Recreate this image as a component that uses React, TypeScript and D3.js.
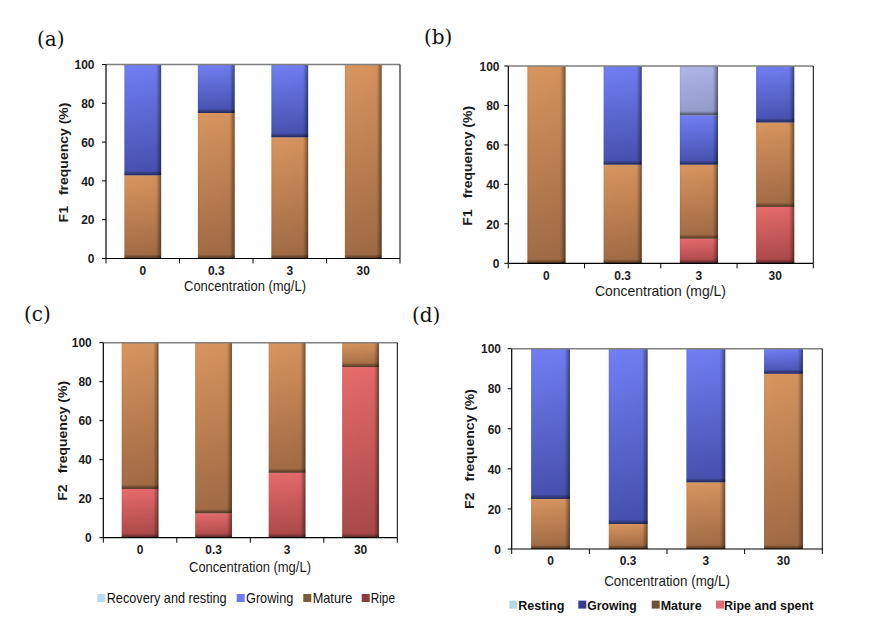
import React from "react";
import * as d3 from "d3";

// ---------- data ----------
const categories = ["0", "0.3", "3", "30"];
const yTickValues = [0, 20, 40, 60, 80, 100];
const stackKeys = ["ripe", "mature", "growing", "resting"]; // bottom -> top

// panel (a) – F1
const aRipe = [0, 0, 0, 0];
const aMature = [42.9, 75, 62.5, 100];
const aGrowing = [57.1, 25, 37.5, 0];
const aResting = [0, 0, 0, 0];
// panel (b) – F1
const bRipe = [0, 0, 12.5, 28.6];
const bMature = [100, 50, 37.5, 42.8];
const bGrowing = [0, 50, 25, 28.6];
const bResting = [0, 0, 25, 0];
// panel (c) – F2
const cRipe = [25, 12.5, 33.3, 87.5];
const cMature = [75, 87.5, 66.7, 12.5];
const cGrowing = [0, 0, 0, 0];
const cResting = [0, 0, 0, 0];
// panel (d) – F2
const dRipe = [0, 0, 0, 0];
const dMature = [25, 12.5, 33.3, 87.5];
const dGrowing = [75, 87.5, 66.7, 12.5];
const dResting = [0, 0, 0, 0];

const legendCLabels = ["Recovery and resting", "Growing", "Mature", "Ripe"];
const legendDLabels = ["Resting", "Growing", "Mature", "Ripe and spent"];

// ---------- styles ----------
const barColors: Record<string, [string, string]> = {
  resting: ["#aeb6ea", "#939bc9"],
  growing: ["#717ff4", "#4550ad"],
  mature: ["#d8955f", "#a06a44"],
  ripe: ["#e76b6b", "#a94848"],
};
const legendCColors = ["#b9def2", "#6f79e8", "#7b5a3b", "#8e3a42"];
const legendDColors = ["#b4d9ea", "#363d8c", "#6e5038", "#e06a7a"];

type Panel = {
  id: string;
  label: string;
  labelX: number;
  labelY: number;
  yName: string;
  left: number;
  right: number;
  top: number;
  bottom: number;
  yLabelRight: number;
  xLabelY: number;
  xTitleX: number;
  xTitleY: number;
  xTitleLen: number;
  yTitleX: number;
  yTitleY: number;
  series: Record<string, number[]>;
  legend?: {
    labels: string[];
    colors: string[];
    sq: number[];
    tx: number[];
    tl: number[];
    cy: number;
    bold: boolean;
    size: number;
  };
};

const panels: Panel[] = [
  {
    id: "a", label: "(a)", labelX: 37, labelY: 46, yName: "F1",
    left: 106, right: 400, top: 64.5, bottom: 258.5, yLabelRight: 94.5,
    xLabelY: 274.5, xTitleX: 245, xTitleY: 291, xTitleLen: 122,
    yTitleX: 63, yTitleY: 162.5,
    series: { ripe: aRipe, mature: aMature, growing: aGrowing, resting: aResting },
  },
  {
    id: "b", label: "(b)", labelX: 424, labelY: 44, yName: "F1",
    left: 508.3, right: 813.3, top: 66, bottom: 263.3, yLabelRight: 499.5,
    xLabelY: 279.5, xTitleX: 660.5, xTitleY: 296, xTitleLen: 131,
    yTitleX: 466.7, yTitleY: 165.8,
    series: { ripe: bRipe, mature: bMature, growing: bGrowing, resting: bResting },
  },
  {
    id: "c", label: "(c)", labelX: 24, labelY: 321, yName: "F2",
    left: 103.3, right: 397.3, top: 342.7, bottom: 537.7, yLabelRight: 91.7,
    xLabelY: 553.8, xTitleX: 250, xTitleY: 572, xTitleLen: 122,
    yTitleX: 61.7, yTitleY: 440.8,
    series: { ripe: cRipe, mature: cMature, growing: cGrowing, resting: cResting },
    legend: {
      labels: legendCLabels, colors: legendCColors,
      sq: [97.3, 236.7, 303.3, 361.7], tx: [106.7, 246, 312.7, 370.7],
      tl: [120, 47.3, 39.6, 24.3], cy: 598, bold: false, size: 14.5,
    },
  },
  {
    id: "d", label: "(d)", labelX: 412, labelY: 322, yName: "F2",
    left: 511.7, right: 822.3, top: 348.7, bottom: 549, yLabelRight: 501,
    xLabelY: 565, xTitleX: 667, xTitleY: 586, xTitleLen: 125.7,
    yTitleX: 469.3, yTitleY: 449,
    series: { ripe: dRipe, mature: dMature, growing: dGrowing, resting: dResting },
    legend: {
      labels: legendDLabels, colors: legendDColors,
      sq: [509.3, 578.3, 651.7, 716], tx: [518.3, 587.3, 660.7, 724],
      tl: [46, 49.4, 41, 89.3], cy: 604.6, bold: true, size: 13,
    },
  },
];

const FONT = "'Liberation Sans', Arial, sans-serif";

function PanelChart({ p }: { p: Panel }) {
  const x = d3
    .scaleBand<string>()
    .domain(categories)
    .range([p.left, p.right])
    .paddingInner(0.5)
    .paddingOuter(0.25);
  const y = d3.scaleLinear().domain([0, 100]).range([p.bottom, p.top]);

  const rows = categories.map((c, i) => {
    const r: any = { cat: c };
    stackKeys.forEach((k) => (r[k] = p.series[k][i]));
    return r;
  });
  const stacked = d3.stack<any>().keys(stackKeys)(rows);
  const step = x.step();
  const boundaries = d3.range(categories.length + 1).map((i) => p.left + i * step);

  return (
    <g>
      <text x={p.labelX} y={p.labelY} fontFamily="'DejaVu Serif', 'Liberation Serif', serif" fontSize={20} fill="#111">
        {p.label}
      </text>
      {/* bars */}
      {stacked.map((layer) =>
        layer.map((d, i) => {
          const h = y(d[0]) - y(d[1]);
          if (h <= 0.01) return null;
          const bx = x(categories[i])!;
          const bw = x.bandwidth();
          const ty = y(d[1]);
          const sh = Math.min(4, h);
          return (
            <g key={layer.key + i}>
              <rect x={bx} y={ty} width={bw} height={h} fill={`url(#v-${layer.key})`} />
              <rect x={bx} y={ty} width={bw} height={h} fill="url(#shadeH)" />
              <rect x={bx} y={ty + h - sh} width={bw} height={sh} fill="url(#shadeB)" />
            </g>
          );
        })
      )}
      {/* frame */}
      <line x1={p.left} x2={p.right} y1={p.top} y2={p.top} stroke="#7f7f7f" strokeWidth={1.5} />
      <line x1={p.right} x2={p.right} y1={p.top} y2={p.bottom} stroke="#000" strokeWidth={1} />
      <line x1={p.left} x2={p.left} y1={p.top} y2={p.bottom} stroke="#000" strokeWidth={1.2} />
      <line x1={p.left} x2={p.right} y1={p.bottom} y2={p.bottom} stroke="#000" strokeWidth={1.2} />
      {/* y ticks */}
      {yTickValues.map((t) => (
        <g key={t}>
          <line x1={p.left - 4} x2={p.left} y1={y(t)} y2={y(t)} stroke="#000" />
          <text
            transform={`translate(${p.yLabelRight},${y(t) + 4.7}) scale(0.92,1)`}
            textAnchor="end" fontFamily={FONT} fontWeight="bold" fontSize={13} fill="#1a1a1a"
          >
            {t}
          </text>
        </g>
      ))}
      {/* x ticks */}
      {boundaries.map((bx, i) => (
        <line key={i} x1={bx} x2={bx} y1={p.bottom} y2={p.bottom + 5} stroke="#000" />
      ))}
      {categories.map((c) => (
        <text
          key={c}
          transform={`translate(${x(c)! + x.bandwidth() / 2},${p.xLabelY}) scale(0.92,1)`}
          textAnchor="middle" fontFamily={FONT} fontWeight="bold" fontSize={13} fill="#1a1a1a"
        >
          {c}
        </text>
      ))}
      <text
        x={p.xTitleX} y={p.xTitleY} textAnchor="middle" fontFamily={FONT} fontSize={14.5} fill="#1a1a1a"
        textLength={p.xTitleLen} lengthAdjust="spacingAndGlyphs"
      >
        Concentration (mg/L)
      </text>
      <text
        transform={`translate(${p.yTitleX + 5},${p.yTitleY}) rotate(-90) scale(1,0.92)`}
        textAnchor="middle" fontFamily={FONT} fontWeight="bold" fontSize={14} fill="#1a1a1a"
      >
        <tspan>{p.yName}</tspan>
        <tspan dx={11}>frequency (%)</tspan>
      </text>
      {p.legend &&
        p.legend.labels.map((l, i) => (
          <g key={l}>
            <rect x={p.legend!.sq[i]} y={p.legend!.cy - 4} width={8} height={8} fill={p.legend!.colors[i]} />
            <text
              x={p.legend!.tx[i]} y={p.legend!.cy + 5} fontFamily={FONT}
              fontWeight={p.legend!.bold ? "bold" : "normal"} fontSize={p.legend!.size} fill="#111"
              textLength={p.legend!.tl[i]} lengthAdjust="spacingAndGlyphs"
            >
              {l}
            </text>
          </g>
        ))}
    </g>
  );
}

export default function App() {
  return (
    <svg
      width={870}
      height={619}
      style={{ position: "absolute", left: 0, top: 0, display: "block", background: "#fff" }}
    >
      <defs>
        {Object.entries(barColors).map(([k, [c1, c2]]) => (
          <linearGradient key={k} id={`v-${k}`} x1="0" y1="0" x2="0" y2="1">
            <stop offset="0" stopColor={c1} />
            <stop offset="1" stopColor={c2} />
          </linearGradient>
        ))}
        <linearGradient id="shadeH" x1="0" y1="0" x2="1" y2="0">
          <stop offset="0" stopColor="#000" stopOpacity={0.06} />
          <stop offset="0.05" stopColor="#000" stopOpacity={0} />
          <stop offset="0.86" stopColor="#000" stopOpacity={0.02} />
          <stop offset="0.94" stopColor="#000" stopOpacity={0.25} />
          <stop offset="1" stopColor="#000" stopOpacity={0.5} />
        </linearGradient>
        <linearGradient id="shadeB" x1="0" y1="0" x2="0" y2="1">
          <stop offset="0" stopColor="#000" stopOpacity={0.05} />
          <stop offset="1" stopColor="#000" stopOpacity={0.5} />
        </linearGradient>
      </defs>
      <rect width={870} height={619} fill="#fff" />
      {panels.map((p) => (
        <PanelChart key={p.id} p={p} />
      ))}
    </svg>
  );
}
